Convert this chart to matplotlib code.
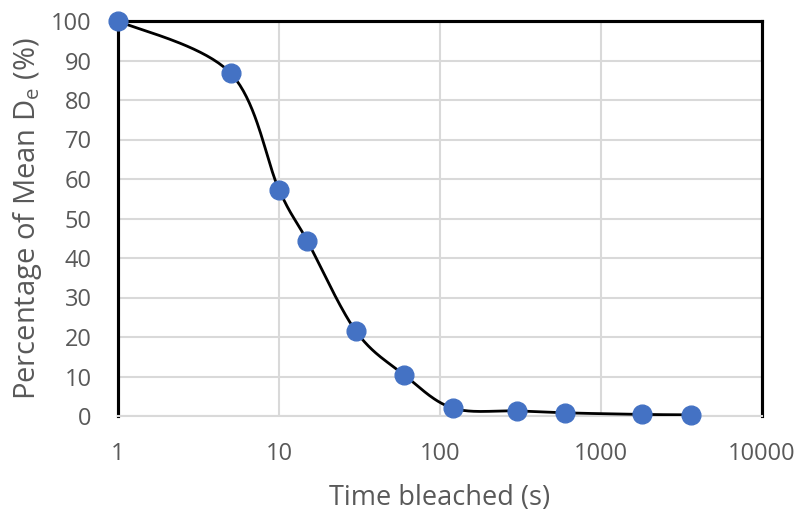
import numpy as np
import matplotlib
matplotlib.use("Agg")
import matplotlib.pyplot as plt
from matplotlib.ticker import FixedLocator, FixedFormatter, NullLocator

# data
time_s = [1, 5, 10, 15, 30, 60, 120, 300, 600, 1800, 3600]
pct_de = [100, 86.8, 57.3, 44.3, 21.5, 10.4, 2.0, 1.3, 0.8, 0.4, 0.3]
xticks = [1, 10, 100, 1000, 10000]
xtick_labels = ["1", "10", "100", "1000", "10000"]
yticks = [0, 10, 20, 30, 40, 50, 60, 70, 80, 90, 100]


def smooth_line(xs, ys, n=40):
    # Excel-like smoothed line: cubic bezier with Catmull-Rom control points
    p = np.column_stack([np.log10(xs), ys])
    out = []
    for i in range(len(p) - 1):
        p0 = p[i - 1] if i > 0 else p[i]
        p3 = p[i + 2] if i + 2 < len(p) else p[i + 1]
        c1 = p[i] + (p[i + 1] - p0) / 6
        c2 = p[i + 1] - (p3 - p[i]) / 6
        t = np.linspace(0, 1, n)[:, None]
        seg = ((1 - t) ** 3 * p[i] + 3 * (1 - t) ** 2 * t * c1
               + 3 * (1 - t) * t ** 2 * c2 + t ** 3 * p[i + 1])
        out.append(seg)
    out = np.vstack(out)
    return 10 ** out[:, 0], out[:, 1]


plt.rcParams['font.family'] = ['Open Sans', 'DejaVu Sans']
grey = '#595959'

fig = plt.figure(figsize=(7.98, 5.18), dpi=100)
ax = fig.add_axes([118 / 798, 1 - 416 / 518, (762 - 118) / 798, (416 - 21) / 518])

sx, sy = smooth_line(time_s, pct_de)
ax.plot(sx, sy, color='black', lw=2, zorder=3)
ax.plot(time_s, pct_de, 'o', color='#4472C4', ms=13.5, zorder=4, clip_on=False)

ax.set_xscale('log')
ax.set_xlim(1, 10000)
ax.set_ylim(0, 100)
ax.xaxis.set_major_locator(FixedLocator(xticks))
ax.xaxis.set_major_formatter(FixedFormatter(xtick_labels))
ax.xaxis.set_minor_locator(NullLocator())
ax.set_yticks(yticks)

ax.grid(True, color='#d9d9d9', lw=1.5, zorder=0)
ax.set_axisbelow(True)
ax.tick_params(length=0, labelsize=17, labelcolor=grey)
ax.tick_params(axis='x', pad=19)
ax.tick_params(axis='y', pad=19)

for s in ['left', 'top', 'right']:
    ax.spines[s].set_color('black')
    ax.spines[s].set_linewidth(2.25)
ax.spines['bottom'].set_color('#d9d9d9')
ax.spines['bottom'].set_linewidth(1.5)

ax.set_xlabel('Time bleached (s)', fontsize=19.5, color=grey, labelpad=13)
ax.set_ylabel(r'Percentage of Mean D$\mathregular{_e}$ (%)', fontsize=21, color=grey, labelpad=5)

fig.savefig('out.png', dpi=100)
